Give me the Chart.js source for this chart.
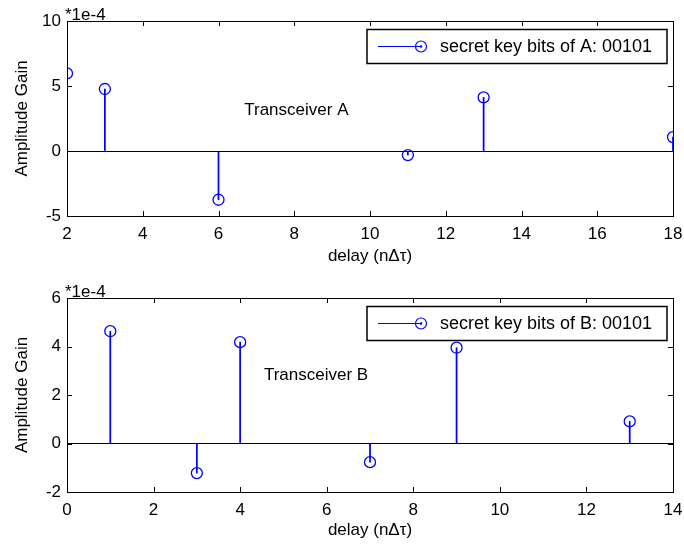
<!DOCTYPE html>
<html>
<head>
<meta charset="utf-8">
<script src="https://cdn.jsdelivr.net/npm/chart.js@4.4.1/dist/chart.umd.min.js"></script>
<style>
  html, body { margin: 0; padding: 0; background: #fff; }
  .wrap { position: relative; width: 684px; height: 548px; }
  canvas { position: absolute; left: 0; }
  #chartA { top: 0; }
  #chartB { top: 274px; }
</style>
</head>
<body>
<div class="wrap">
  <canvas id="chartA" width="684" height="274"></canvas>
  <canvas id="chartB" width="684" height="274"></canvas>
</div>
<script>
// --- data (amplitudes in units of 1e-4) ---
const delaysA = [2, 3, 6, 11, 13, 18];
const gainsA = [5.97, 4.77, -3.75, -0.31, 4.13, 1.07];
const delaysB = [1, 3, 4, 7, 9, 13];
const gainsB = [4.63, -1.22, 4.18, -0.77, 3.95, 0.91];

const xTicksA = { min: 2, max: 18, step: 2 };
const yTicksA = { min: -5, max: 10, step: 5 };
const xTicksB = { min: 0, max: 14, step: 2 };
const yTicksB = { min: -2, max: 6, step: 2 };

const legendA = 'secret key bits of A: 00101';
const legendB = 'secret key bits of B: 00101';
const noteA = { x: 6.68, y: 3.1, text: 'Transceiver A' };
const noteB = { x: 4.55, y: 2.8, text: 'Transceiver B' };

const FONT = "'Liberation Sans', Arial, sans-serif";
const BLUE = '#0000ff';

Chart.defaults.font.family = FONT;
Chart.defaults.font.size = 17;
Chart.defaults.color = '#000';

// frame, inward ticks, legend box, note text and exponent label
const matlabDecor = {
  id: 'matlabDecor',
  afterDraw(chart, args, opts) {
    const ctx = chart.ctx;
    const { left, right, top, bottom } = chart.chartArea;
    const xs = chart.scales.x, ys = chart.scales.y;
    const tl = 5;

    ctx.save();
    ctx.strokeStyle = '#000';
    ctx.lineWidth = 1;
    ctx.strokeRect(Math.round(left) + 0.5, Math.round(top) + 0.5,
      Math.round(right - left), Math.round(bottom - top));

    ctx.beginPath();
    xs.ticks.forEach(t => {
      const px = Math.round(xs.getPixelForValue(t.value)) + 0.5;
      ctx.moveTo(px, bottom); ctx.lineTo(px, bottom - tl);
      ctx.moveTo(px, top); ctx.lineTo(px, top + tl);
    });
    ys.ticks.forEach(t => {
      const py = Math.round(ys.getPixelForValue(t.value)) + 0.5;
      ctx.moveTo(left, py); ctx.lineTo(left + tl, py);
      ctx.moveTo(right, py); ctx.lineTo(right - tl, py);
    });
    ctx.stroke();

    // exponent label
    ctx.fillStyle = '#000';
    ctx.font = '17px ' + FONT;
    ctx.textAlign = 'left';
    ctx.textBaseline = 'alphabetic';
    ctx.fillText('*1e-4', left - 2, top - 1);

    // note text
    ctx.textBaseline = 'middle';
    ctx.fillText(opts.note.text, xs.getPixelForValue(opts.note.x), ys.getPixelForValue(opts.note.y));

    // legend
    const bw = 300, bh = 34;
    const bx = right - 6 - bw, by = top + 8.5;
    ctx.fillStyle = '#fff';
    ctx.fillRect(bx, by, bw, bh);
    ctx.lineWidth = 1.5;
    ctx.strokeRect(bx, by, bw, bh);
    const my = by + bh / 2;
    ctx.strokeStyle = BLUE;
    ctx.lineWidth = 1.2;
    ctx.beginPath();
    ctx.moveTo(bx + 11, my); ctx.lineTo(bx + 54, my);
    ctx.stroke();
    ctx.beginPath();
    ctx.arc(bx + 54, my, 5.5, 0, Math.PI * 2);
    ctx.stroke();
    ctx.fillStyle = BLUE;
    ctx.beginPath();
    ctx.arc(bx + 54, my, 1.3, 0, Math.PI * 2);
    ctx.fill();
    ctx.fillStyle = '#000';
    ctx.font = '18px ' + FONT;
    ctx.fillText(opts.legend, bx + 73, my + 1);
    ctx.restore();
  }
};

function makeStemChart(canvasId, delays, gains, xr, yr, legendText, note, padTop, xHeight) {
  const pts = delays.map((d, i) => ({ x: d, y: gains[i] }));
  return new Chart(document.getElementById(canvasId), {
    type: 'scatter',
    data: {
      datasets: [
        {
          type: 'bar',
          data: pts,
          backgroundColor: BLUE,
          borderWidth: 0,
          barThickness: 1.1
        },
        {
          type: 'scatter',
          data: pts,
          pointStyle: 'circle',
          pointRadius: 5.5,
          pointHoverRadius: 5.5,
          borderColor: BLUE,
          backgroundColor: 'rgba(0,0,0,0)',
          borderWidth: 1.3
        }
      ]
    },
    options: {
      responsive: false,
      animation: false,
      events: [],
      layout: { padding: { top: padTop, right: 11, left: 0, bottom: 0 } },
      plugins: {
        legend: { display: false },
        tooltip: { enabled: false },
        matlabDecor: { legend: legendText, note: note }
      },
      scales: {
        x: {
          type: 'linear',
          min: xr.min, max: xr.max,
          offset: false,
          grid: { display: false, drawTicks: false },
          border: { display: false },
          ticks: { stepSize: xr.step, padding: 8, maxRotation: 0 },
          title: { display: true, text: 'delay (nΔτ)', padding: { top: 0, bottom: 7 } },
          afterFit: s => { s.height = xHeight; s.paddingLeft = 0; s.paddingRight = 0; }
        },
        y: {
          min: yr.min, max: yr.max,
          grid: {
            drawTicks: false,
            lineWidth: 1,
            color: c => (c.tick && c.tick.value === 0 ? '#000' : 'rgba(0,0,0,0)')
          },
          border: { display: false },
          ticks: { stepSize: yr.step, padding: 6 },
          title: { display: true, text: 'Amplitude Gain', padding: { top: 12, bottom: 0 } },
          afterFit: s => { s.width = 67; s.paddingTop = 0; s.paddingBottom = 0; }
        }
      }
    },
    plugins: [matlabDecor]
  });
}

makeStemChart('chartA', delaysA, gainsA, xTicksA, yTicksA, legendA, noteA, 21, 58);
makeStemChart('chartB', delaysB, gainsB, xTicksB, yTicksB, legendB, noteB, 24, 56);
</script>
</body>
</html>
